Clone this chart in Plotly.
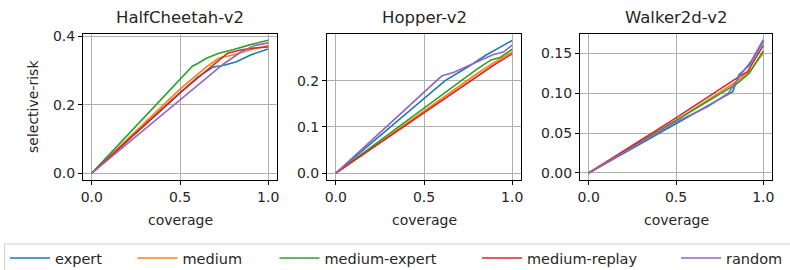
import plotly.graph_objects as go

W, H = 790, 280   # figure is slightly taller than the 270px window; bottom is hidden

envs = ["HalfCheetah-v2", "Hopper-v2", "Walker2d-v2"]
datasets = ["expert", "medium", "medium-expert", "medium-replay", "random"]
colors = ["#1f77b4", "#ff7f0e", "#2ca02c", "#d62728", "#9467bd"]

# HalfCheetah-v2
hc_expert_x = [0, 0.6, 0.69, 0.75, 0.82, 0.9, 1.0]
hc_expert_y = [0, 0.28, 0.31, 0.315, 0.325, 0.345, 0.362]
hc_medium_x = [0, 0.5, 0.65, 0.72, 0.8, 0.9, 1.0]
hc_medium_y = [0, 0.245, 0.31, 0.336, 0.345, 0.36, 0.372]
hc_mexp_x = [0, 0.57, 0.6, 0.65, 0.72, 0.8, 0.9, 1.0]
hc_mexp_y = [0, 0.312, 0.32, 0.335, 0.35, 0.36, 0.375, 0.388]
hc_mrep_x = [0, 0.5, 0.7, 0.77, 0.85, 0.92, 1.0]
hc_mrep_y = [0, 0.235, 0.32, 0.35, 0.36, 0.365, 0.368]
hc_rand_x = [0, 0.5, 0.75, 0.85, 0.92, 1.0]
hc_rand_y = [0, 0.215, 0.32, 0.355, 0.372, 0.38]

# Hopper-v2
ho_expert_x = [0, 0.62, 0.75, 0.85, 0.93, 1.0]
ho_expert_y = [0, 0.2, 0.23, 0.255, 0.272, 0.287]
ho_medium_x = [0, 0.5, 0.8, 0.9, 1.0]
ho_medium_y = [0, 0.135, 0.215, 0.24, 0.262]
ho_mexp_x = [0, 0.5, 0.8, 0.88, 0.93, 1.0]
ho_mexp_y = [0, 0.14, 0.225, 0.245, 0.25, 0.268]
ho_mrep_x = [0, 0.5, 0.9, 1.0]
ho_mrep_y = [0, 0.13, 0.235, 0.258]
ho_rand_x = [0, 0.6, 0.67, 0.75, 0.825, 0.89, 0.95, 1.0]
ho_rand_y = [0, 0.21, 0.218, 0.232, 0.246, 0.256, 0.262, 0.277]

# Walker2d-v2
wa_expert_x = [0, 0.5, 0.825, 0.86, 0.92, 1.0]
wa_expert_y = [0, 0.062, 0.102, 0.123, 0.135, 0.165]
wa_medium_x = [0, 0.5, 0.85, 0.92, 1.0]
wa_medium_y = [0, 0.066, 0.115, 0.127, 0.15]
wa_mexp_x = [0, 0.5, 0.85, 0.92, 1.0]
wa_mexp_y = [0, 0.066, 0.112, 0.125, 0.153]
wa_mrep_x = [0, 0.5, 0.835, 0.91, 1.0]
wa_mrep_y = [0, 0.069, 0.117, 0.127, 0.16]
wa_rand_x = [0, 0.5, 0.68, 0.8, 0.86, 0.93, 1.0]
wa_rand_y = [0, 0.064, 0.083, 0.1, 0.12, 0.14, 0.167]

series = [
    [(hc_expert_x, hc_expert_y), (hc_medium_x, hc_medium_y), (hc_mexp_x, hc_mexp_y),
     (hc_mrep_x, hc_mrep_y), (hc_rand_x, hc_rand_y)],
    [(ho_expert_x, ho_expert_y), (ho_medium_x, ho_medium_y), (ho_mexp_x, ho_mexp_y),
     (ho_mrep_x, ho_mrep_y), (ho_rand_x, ho_rand_y)],
    [(wa_expert_x, wa_expert_y), (wa_medium_x, wa_medium_y), (wa_mexp_x, wa_mexp_y),
     (wa_mrep_x, wa_mrep_y), (wa_rand_x, wa_rand_y)],
]

y_ranges = [[-0.02, 0.406], [-0.015, 0.301], [-0.0088, 0.1742]]
y_ticks = [[0.0, 0.2, 0.4], [0.0, 0.1, 0.2], [0.0, 0.05, 0.10, 0.15]]
y_ticktext = [["0.0", "0.2", "0.4"], ["0.0", "0.1", "0.2"], ["0.00", "0.05", "0.10", "0.15"]]
x_ticks = [0.0, 0.5, 1.0]
x_ticktext = ["0.0", "0.5", "1.0"]

# panel pixel boxes (left, right), measured from the top-left of the page
px_lr = [(83, 277), (327, 521), (580, 772)]
top_px, bot_px = 34, 180
# legend line start pixels
legend_px = [11, 138.5, 280.5, 483, 682]


def py(px):
    return (H - px) / H


fig = go.Figure()
font = "DejaVu Sans"
txtc = "#262626"

for p in range(3):
    xa = "x" if p == 0 else f"x{p+1}"
    ya = "y" if p == 0 else f"y{p+1}"
    for i, (xs, ys) in enumerate(series[p]):
        lg = "legend" if i == 0 else f"legend{i+1}"
        fig.add_trace(go.Scatter(
            x=xs, y=ys, mode="lines", name=datasets[i],
            line=dict(color=colors[i], width=1.6),
            xaxis=xa, yaxis=ya, showlegend=(p == 0), legendgroup=datasets[i],
            legend=lg,
        ))
    l, r = px_lr[p]
    axis_common = dict(
        showline=True, linecolor="black", linewidth=1, mirror=True,
        ticks="outside", ticklen=4, tickcolor="black", tickwidth=1,
        showgrid=True, gridcolor="#b0b0b0", gridwidth=1, zeroline=False,
        automargin=False,
        tickfont=dict(family=font, size=14, color=txtc),
    )
    xkey = "xaxis" if p == 0 else f"xaxis{p+1}"
    ykey = "yaxis" if p == 0 else f"yaxis{p+1}"
    fig.layout[xkey] = dict(
        domain=[l / W, r / W], range=[-0.05, 1.05], anchor=ya,
        tickvals=x_ticks, ticktext=x_ticktext, **axis_common,
    )
    fig.layout[ykey] = dict(
        domain=[py(bot_px), py(top_px)], range=y_ranges[p], anchor=xa,
        tickvals=y_ticks[p], ticktext=y_ticktext[p], **axis_common,
    )
    cx = (l + r) / 2 / W
    fig.add_annotation(text=envs[p], x=cx, y=py(17), xref="paper", yref="paper",
                       showarrow=False, xanchor="center", yanchor="middle",
                       font=dict(family=font, size=16.5, color=txtc))
    fig.add_annotation(text="coverage", x=cx, y=py(220), xref="paper", yref="paper",
                       showarrow=False, xanchor="center", yanchor="middle",
                       font=dict(family=font, size=14, color=txtc))

fig.add_annotation(text="selective-risk", x=33 / W, y=py(107), xref="paper", yref="paper",
                   showarrow=False, textangle=-90, xanchor="center", yanchor="middle",
                   font=dict(family=font, size=14, color=txtc))

# legend frame
fig.add_shape(type="rect", xref="paper", yref="paper",
              x0=4.5 / W, x1=(W + 5) / W, y0=py(H + 10), y1=py(244),
              line=dict(color="#d0d0d0", width=1), fillcolor="white", layer="below")

legends = {}
for i in range(5):
    key = "legend" if i == 0 else f"legend{i+1}"
    legends[key] = dict(
        orientation="h", x=(legend_px[i] - 6) / W, y=py(258),
        xanchor="left", yanchor="middle", itemwidth=40,
        bgcolor="rgba(0,0,0,0)", borderwidth=0,
        font=dict(family=font, size=14.5, color=txtc),
    )

fig.update_layout(
    width=W, height=H,
    margin=dict(l=0, r=0, t=0, b=0),
    paper_bgcolor="white", plot_bgcolor="white",
    showlegend=True,
    **legends,
)

fig.write_html(
    "out.html", config={"displayModeBar": False},
    post_script="document.body.style.margin='0';document.body.style.overflow='hidden';"
                "document.documentElement.style.overflow='hidden';",
)
